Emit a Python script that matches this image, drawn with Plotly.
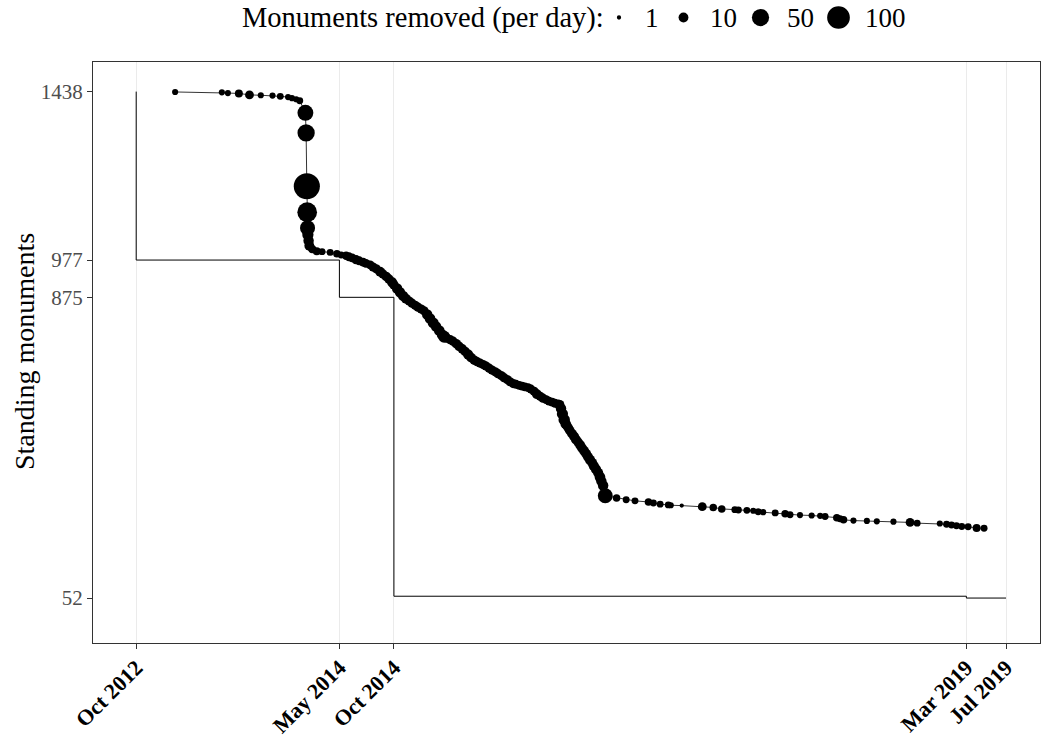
import numpy as np
import plotly.graph_objects as go

# ---------------- data ----------------
dates = [
    "2013-02-15", "2013-06-27", "2013-07-14", "2013-08-14", "2013-09-13", "2013-10-15",
    "2013-11-17", "2013-12-09", "2013-12-31", "2014-01-11", "2014-01-23", "2014-02-02",
    "2014-02-18", "2014-02-20", "2014-02-22", "2014-02-23", "2014-02-24", "2014-02-25",
    "2014-02-27", "2014-03-01", "2014-03-09", "2014-03-22", "2014-04-06", "2014-04-29",
    "2014-05-18", "2014-05-30", "2014-06-13",
    "2014-06-21", "2014-06-30", "2014-07-11", "2014-07-20", "2014-07-31", "2014-08-08",
    "2014-08-20", "2014-08-28", "2014-09-06", "2014-09-17", "2014-09-25", "2014-10-04",
    "2014-10-12", "2014-10-21", "2014-10-26", "2014-11-04", "2014-11-12", "2014-11-21",
    "2014-11-29", "2014-12-08", "2014-12-16", "2014-12-25", "2015-01-02", "2015-01-11",
    "2015-01-19", "2015-01-28", "2015-02-05", "2015-02-14", "2015-02-22", "2015-03-03",
    "2015-03-11", "2015-03-17", "2015-03-25", "2015-04-03", "2015-04-11", "2015-04-20",
    "2015-04-28", "2015-05-07", "2015-05-15", "2015-05-24", "2015-06-01", "2015-06-10",
    "2015-06-18", "2015-06-26", "2015-07-05", "2015-07-13", "2015-07-22", "2015-07-30",
    "2015-08-08", "2015-08-16", "2015-08-25", "2015-09-02", "2015-09-11", "2015-09-19",
    "2015-09-28", "2015-10-06", "2015-10-15", "2015-10-23", "2015-10-31", "2015-11-09",
    "2015-11-17", "2015-11-26", "2015-12-04", "2015-12-13", "2015-12-21", "2015-12-30",
    "2016-01-07", "2016-01-16", "2016-01-24", "2016-02-02", "2016-02-07", "2016-02-10",
    "2016-02-14", "2016-02-19", "2016-02-23", "2016-02-27", "2016-03-02", "2016-03-06",
    "2016-03-12", "2016-03-18", "2016-03-23", "2016-03-29", "2016-04-04", "2016-04-09",
    "2016-04-15", "2016-04-21", "2016-04-26", "2016-05-02", "2016-05-08", "2016-05-13",
    "2016-05-19", "2016-05-25", "2016-05-30", "2016-06-03", "2016-06-08", "2016-06-14",
    "2016-07-16", "2016-08-12", "2016-09-06", "2016-10-14", "2016-10-28", "2016-11-16",
    "2016-12-09", "2016-12-16", "2017-01-16", "2017-03-15", "2017-04-15", "2017-05-09",
    "2017-06-15", "2017-06-25", "2017-07-19", "2017-08-06", "2017-08-20", "2017-09-03",
    "2017-10-07", "2017-11-04", "2017-11-18", "2017-12-16", "2018-01-18", "2018-02-11",
    "2018-02-25", "2018-03-30", "2018-04-08", "2018-04-18", "2018-05-16", "2018-06-23",
    "2018-07-21", "2018-09-06", "2018-10-23", "2018-11-12", "2019-01-15", "2019-02-03",
    "2019-02-17", "2019-03-03", "2019-03-18", "2019-04-05", "2019-04-29", "2019-05-20",
]

standing = [
    1437, 1436, 1434, 1433, 1429, 1428, 1427, 1425, 1423, 1420, 1417, 1413,
    1380, 1325, 1179, 1108, 1065, 1046, 1030, 1016, 1007, 1001, 1000, 998,
    994, 991, 989,
    986, 983, 978, 975, 971, 968, 964, 958, 953, 945, 939, 932,
    925, 916, 909, 899, 889, 879, 871, 865, 859, 853, 848, 843,
    838, 828, 817, 805, 795, 784, 773, 767, 763, 759, 755, 748,
    741, 734, 727, 718, 710, 703, 699, 695, 691, 687, 681, 676,
    671, 666, 661, 655, 650, 644, 639, 637, 634, 632, 630, 628,
    624, 618, 610, 604, 599, 595, 591, 588, 585, 583, 582, 571,
    556, 540, 529, 523, 517, 510, 502, 494, 486, 479, 471, 463,
    455, 447, 439, 430, 422, 413, 404, 395, 383, 372, 360, 332,
    326, 321, 318, 315, 312, 309, 307, 306, 305, 302, 300, 296,
    294, 293, 292, 291, 288, 287, 285, 283, 280, 279, 278, 277,
    275, 272, 269, 266, 264, 263, 262, 261, 259, 257, 256, 254,
    252, 250, 248, 247, 244, 243,
]

removed = [
    2, 2, 2, 5, 7, 2, 2, 3, 2, 2, 2, 3,
    40, 50, 140, 70, 35, 15, 12, 10, 6, 5, 3, 3,
    4, 3, 6,
    7, 7, 8, 7, 7, 7, 7, 8, 8, 10, 8, 9,
    9, 11, 9, 12, 12, 12, 10, 8, 8, 8, 8, 8,
    8, 12, 13, 14, 12, 13, 13, 18, 8, 8, 8, 9,
    9, 9, 9, 11, 10, 9, 8, 8, 8, 8, 8, 8,
    8, 8, 8, 8, 8, 8, 8, 7, 7, 7, 7, 7,
    7, 8, 10, 8, 8, 7, 7, 7, 7, 7, 7, 12,
    15, 16, 12, 9, 9, 9, 10, 10, 10, 9, 10, 10,
    10, 10, 10, 11, 10, 11, 11, 11, 13, 12, 12, 34,
    4, 3, 3, 4, 3, 3, 3, 2, 1, 7, 4, 4,
    3, 3, 3, 2, 3, 2, 3, 4, 3, 2, 2, 2,
    3, 4, 3, 4, 2, 2, 2, 2, 7, 3, 2, 3,
    3, 3, 3, 3, 5, 3,
]

step_dates = ["2012-10-28", "2012-10-28", "2014-05-25", "2014-10-26", "2019-03-31", "2019-07-21"]
step_values = [1438, 977, 875, 57, 52, 52]

x_tick_dates = ["2012-10-28", "2014-05-25", "2014-10-26", "2019-03-31", "2019-07-21"]
x_tick_labels = ["Oct 2012", "May 2014", "Oct 2014", "Mar 2019", "Jul 2019"]
y_tick_values = [52, 875, 977, 1438]

legend_values = [1, 10, 50, 100]
legend_labels = ["1", "10", "50", "100"]

# ---------------- layout constants ----------------
W, H = 1042, 740
ML, MR, MT, MB = 93, 2, 62, 97
PW, PH = W - ML - MR, H - MT - MB
FONT = "Liberation Serif"


def size_px(v):
    v = np.asarray(v, dtype=float)
    return 4.3 + 1.85 * np.sqrt(np.maximum(v - 1, 0))


def px_to_paper_x(px):
    return (px - ML) / PW


def px_to_paper_y(py):
    return (H - MB - py) / PH


fig = go.Figure()

fig.add_trace(go.Scatter(
    x=step_dates, y=step_values, mode="lines",
    line=dict(color="black", width=1, shape="hv"),
    hoverinfo="skip", showlegend=False,
))

fig.add_trace(go.Scatter(
    x=dates, y=standing, mode="lines+markers",
    line=dict(color="black", width=0.8),
    marker=dict(size=size_px(removed), color="black", opacity=1, line=dict(width=0)),
    showlegend=False,
))

# ---------------- legend (drawn manually) ----------------
legend_cy = 17.5
legend_dot_x = [619, 683.5, 760.5, 838.5]
legend_text_x = [643, 708, 785, 863]
shapes = []
annotations = []
for v, cx in zip(legend_values, legend_dot_x):
    r = float(size_px(v)) / 2
    shapes.append(dict(
        type="circle", xref="paper", yref="paper",
        xsizemode="pixel", ysizemode="pixel",
        xanchor=px_to_paper_x(cx), yanchor=px_to_paper_y(legend_cy),
        x0=-r, x1=r, y0=-r, y1=r,
        fillcolor="black", line=dict(width=0),
    ))
for lab, tx in zip(legend_labels, legend_text_x):
    annotations.append(dict(
        text=lab, xref="paper", yref="paper",
        x=px_to_paper_x(tx), y=px_to_paper_y(legend_cy),
        xanchor="left", yanchor="middle", showarrow=False,
        font=dict(family=FONT, size=27, color="black"),
    ))
annotations.append(dict(
    text="Monuments removed (per day):", xref="paper", yref="paper",
    x=px_to_paper_x(606), y=px_to_paper_y(legend_cy),
    xanchor="right", yanchor="middle", showarrow=False,
    font=dict(family=FONT, size=28.5, color="black"),
))
annotations.append(dict(
    text="Standing monuments", xref="paper", yref="paper",
    x=px_to_paper_x(24), y=px_to_paper_y(352),
    xanchor="center", yanchor="middle", textangle=-90, showarrow=False,
    font=dict(family=FONT, size=28, color="black"),
))

fig.update_layout(
    width=W, height=H,
    margin=dict(l=ML, r=MR, t=MT, b=MB, autoexpand=False),
    paper_bgcolor="white", plot_bgcolor="white",
    font=dict(family=FONT, color="black"),
    shapes=shapes, annotations=annotations,
    showlegend=False,
    xaxis=dict(
        type="date", range=["2012-06-28", "2019-10-25"],
        tickmode="array", tickvals=x_tick_dates, ticktext=x_tick_labels,
        tickangle=-45, tickfont=dict(family=FONT, size=22, color="black", weight="bold"),
        ticklabelstandoff=-3,
        ticks="outside", ticklen=5, tickcolor="#333333", tickwidth=1,
        showgrid=True, gridcolor="#ebebeb", gridwidth=1,
        showline=True, linecolor="#333333", linewidth=1, mirror=True,
        zeroline=False,
    ),
    yaxis=dict(
        range=[-71, 1519],
        tickmode="array", tickvals=y_tick_values,
        tickfont=dict(family=FONT, size=21, color="#4d4d4d"),
        ticks="outside", ticklen=5, tickcolor="#333333", tickwidth=1,
        showgrid=False,
        showline=True, linecolor="#333333", linewidth=1, mirror=True,
        zeroline=False,
    ),
)

fig.write_html("out.html")
